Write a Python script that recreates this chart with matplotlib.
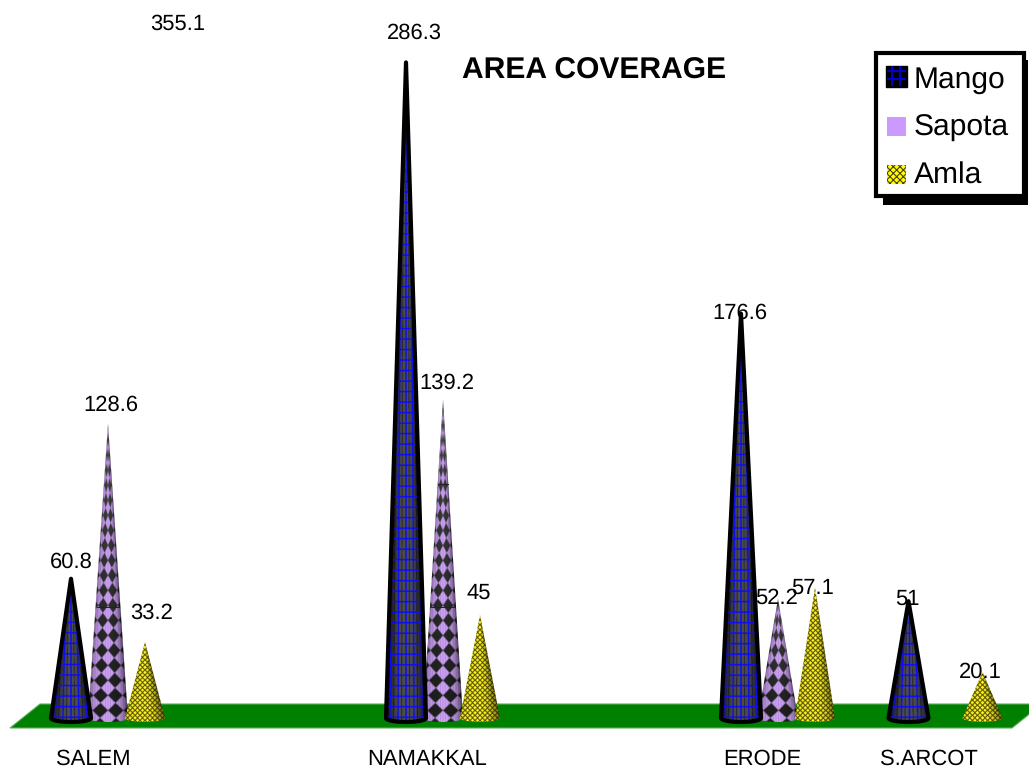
import matplotlib
matplotlib.use("Agg")
import matplotlib.pyplot as plt
import numpy as np
from matplotlib.patches import Polygon, Rectangle, PathPatch
from matplotlib.path import Path

plt.rcParams['font.family'] = ['Liberation Sans', 'DejaVu Sans']
plt.rcParams['text.hinting'] = 'none'
plt.rcParams['text.hinting_factor'] = 1
plt.rcParams['hatch.linewidth'] = 0.8

# values
districts = ['SALEM', 'NAMAKKAL', 'ERODE', 'S.ARCOT']
district_pos = [0, 2, 4, 5]
mango = [60.8, 286.3, 176.6, 51]
sapota = [128.6, 139.2, 52.2, np.nan]
amla = [33.2, 45, 57.1, 20.1]
stray_label = '355.1'
legend_names = ['Mango', 'Sapota', 'Amla']
grid_levels = [48.5, 102]   # short dark rules that show on the tall sapota cones

W, H = 1029, 768
PX_X = 167.5   # pixels per category step
PX_Y = 2.29    # pixels per unit
X0, Y0 = 108, 718   # pixel position of first category, value 0
OFFS = [-37, 0, 37]
HALF_W = 20
ELL_B = 4
SS = 4   # texture supersampling

# label offsets from the cone tip, in pixels (dx, dy up)
label_off = {
    'mango': [(0, 17), (8, 29), (-1, 0), (-1, 2)],
    'sapota': [(3, 18), (4, 16), (-1, 0), None],
    'amla': [(7, 29), (-1, 22), (-2, -1), (-2, 0)],
}


def soft(d, cut, width):
    return np.clip((cut - d) / width + 0.5, 0, 1)[..., None]


def tex_mango(gx, v, frac):
    s = 8 * np.maximum(frac, 0.02) ** 0.3
    u = gx / s
    a = np.abs(u - np.round(u)) < 1.0 / s * 0.7
    b = (v % 10.5) < 1.4
    edge = np.abs(gx) / np.maximum(frac * HALF_W, 0.01)
    base = 0.30 * np.clip(1.0 - edge ** 3, 0, 1)
    rgb = np.stack([base, base, base], axis=-1)
    rgb[a | b] = [0.05, 0.05, 0.95]
    stripe = (np.abs(u - np.round(u) - 0.5) < 0.1) & ~(a | b)
    rgb[stripe] = rgb[stripe] * 0.4
    return rgb, np.ones(gx.shape)


def tex_sapota(gx, v, frac):
    e = gx / np.maximum(frac * HALF_W, 0.01)
    u = e / 0.8
    w = v / 15.0
    d = np.abs(u - np.round(u)) + np.abs(w - np.round(w))
    on = soft(d, 0.5, 0.12)
    dark = (0.12 + 0.16 * (1 - np.clip(frac * 1.1, 0, 1)))[..., None]
    rgb = on * np.array([0.80, 0.63, 0.96]) + (1 - on) * dark
    stripe = np.abs(np.sin(gx * np.pi / 2.6)) < 0.3
    rgb = np.where(stripe[..., None], rgb * 0.75 + 0.03, rgb)
    shade = 1.0 - 0.3 * np.clip(-e, 0, 1) ** 3 - 0.6 * np.clip(e, 0, 1) ** 3
    return rgb, shade


def tex_amla(gx, v, frac):
    e = gx / np.maximum(frac * HALF_W, 0.01)
    u = gx / 5.0
    w = v / 5.0
    d = np.abs(u - np.round(u)) + np.abs(w - np.round(w))
    on = np.maximum(soft(d, 0.38, 0.1), soft(-d, -0.66, 0.1))
    rgb = on * np.array([1.0, 0.97, 0.12]) + (1 - on) * np.array([0.30, 0.27, 0.02])
    shade = 1.0 - 0.1 * np.clip(-e, 0, 1) ** 3 - 0.55 * np.clip(e, 0, 1) ** 2
    return rgb, shade


def cone_path(xc, top):
    hw = HALF_W / PX_X
    b = ELL_B / PX_Y
    t = np.linspace(np.pi, 2 * np.pi, 40)
    xs = list(xc + hw * np.cos(t))
    ys = list(b * np.sin(t))
    pts = [(xc, top)] + list(zip(xs, ys)) + [(xc, top)]
    codes = [Path.MOVETO] + [Path.LINETO] * (len(pts) - 2) + [Path.CLOSEPOLY]
    return Path(pts, codes)


def draw_cone(ax, xc, top, tex, outline=False, z=3):
    hw = HALF_W / PX_X
    b = ELL_B / PX_Y
    ny = int((top + b) * PX_Y * SS) + 1
    nx = HALF_W * 2 * SS
    ys = np.linspace(top, -b, ny)
    xs = np.linspace(-HALF_W, HALF_W, nx)
    gx, gy = np.meshgrid(xs, ys)
    frac = np.clip((top - gy) / top, 1e-3, None)
    rgb, shade = tex(gx, gy * PX_Y, frac)
    img = np.clip(rgb * shade[..., None], 0, 1)
    im = ax.imshow(img, extent=(xc - hw, xc + hw, -b, top), aspect='auto',
                   interpolation='antialiased', zorder=z)
    patch = PathPatch(cone_path(xc, top), transform=ax.transData, fc='none',
                      ec='black' if outline else 'none', lw=3.0 if outline else 0,
                      joinstyle='round', zorder=z + 0.1)
    ax.add_patch(patch)
    im.set_clip_path(patch)


fig = plt.figure(figsize=(W / 100, H / 100), dpi=100, facecolor='white')

# page axes in pixels for ground, legend and title
page = fig.add_axes([0, 0, 1, 1], zorder=1)
page.set_xlim(0, W)
page.set_ylim(H, 0)
page.axis('off')
page.add_patch(Polygon([(10, 728), (1012, 728), (1042, 704), (40, 704)], closed=True,
                       fc='#008000', ec='#5fae5f', lw=0.8))
page.text(594, 71, 'AREA COVERAGE', fontsize=21.5, fontweight='bold', ha='center', va='center')

ax = fig.add_axes([0, 0, 1, 1], zorder=2)
ax.patch.set_alpha(0)
ax.set_xlim(-X0 / PX_X, (W - X0) / PX_X)
ax.set_ylim(-(H - Y0) / PX_Y, Y0 / PX_Y)
ax.axis('off')

series = [('mango', mango, tex_mango, True), ('sapota', sapota, tex_sapota, False), ('amla', amla, tex_amla, False)]
cat_dx = [-15, -16, -16, -17]
for k in range(len(districts)):
    x0 = district_pos[k]
    for j in [1, 2, 0]:
        name, vals, tex, outline = series[j]
        v = vals[k]
        if np.isnan(v):
            continue
        xc = x0 + OFFS[j] / PX_X
        draw_cone(ax, xc, v, tex, outline, z=3 + (j == 0) + (j == 2) * 0.5)
        ax.annotate(str(v), xy=(xc, v), xytext=label_off[name][k], textcoords='offset pixels',
                    ha='center', va='center', fontsize=15.5, zorder=10)
        if name == 'sapota':
            for lev in grid_levels:
                if v > lev + 30:
                    half = 0.9 * HALF_W * (1 - lev / v) / PX_X
                    ax.plot([xc - half, xc + half], [lev, lev], color='#202020', lw=0.7, zorder=3.3)
    ax.annotate(districts[k], xy=(x0, 0), xytext=(cat_dx[k], -41), textcoords='offset pixels',
                ha='center', va='center', fontsize=15.5)
ax.set_xlim(-X0 / PX_X, (W - X0) / PX_X)
ax.set_ylim(-(H - Y0) / PX_Y, Y0 / PX_Y)

# label with no visible cone, the tip is off the chart
page.text(178, 24, stray_label, fontsize=15.5, ha='center', va='center', zorder=10)

# legend box
leg = fig.add_axes([0, 0, 1, 1], zorder=5)
leg.patch.set_alpha(0)
leg.set_xlim(0, W)
leg.set_ylim(H, 0)
leg.axis('off')
leg.add_patch(Rectangle((883, 60), 145, 145, fc='black', ec='none'))
leg.add_patch(Rectangle((876, 53), 148, 143, fc='white', ec='black', lw=3))
rows = [80, 128, 176]
for name, yc in zip(legend_names, rows):
    leg.text(914, yc, name, fontsize=21.9, ha='left', va='center')
leg.add_patch(Rectangle((886, 66), 21, 21, fc='black', ec='black', lw=1))
for p in (892, 900):
    leg.plot([p, p], [67, 85], color='#0000e0', lw=1.3)
for p in (71, 79):
    leg.plot([888, 905], [p, p], color='#0000e0', lw=1.3)
leg.add_patch(Rectangle((887, 117), 19, 19, fc='#cc99ff', ec='none'))
leg.add_patch(Rectangle((887, 165), 19, 19, fc='#ffff00', ec='none', zorder=2))
leg.add_patch(Rectangle((887, 165), 19, 19, fc='none', ec='#504000', hatch='xxxxx', lw=0, zorder=3))
leg.set_xlim(0, W)
leg.set_ylim(H, 0)

fig.savefig('out.png', dpi=100, facecolor='white')
